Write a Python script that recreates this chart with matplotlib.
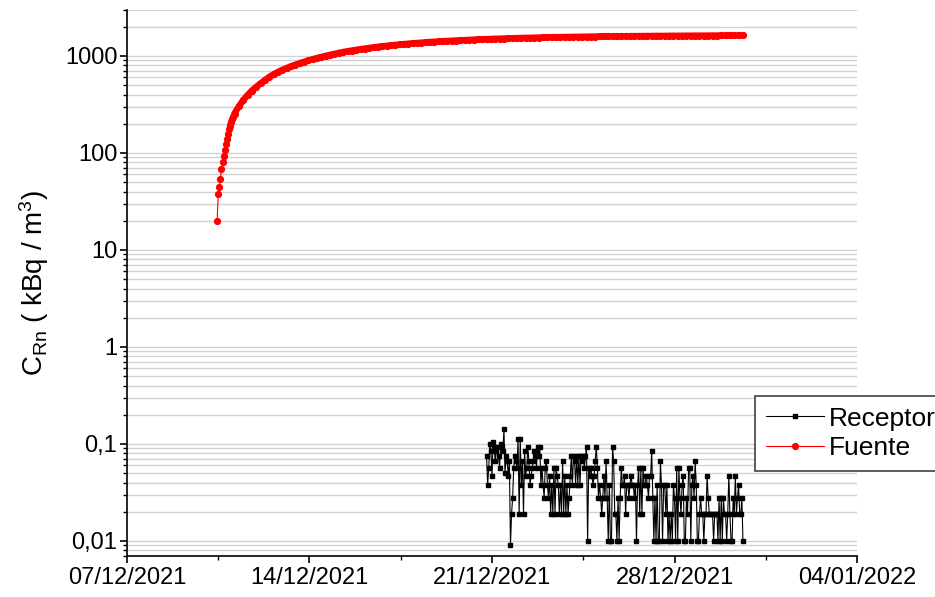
import numpy as np
import pandas as pd
import matplotlib
matplotlib.use('Agg')
import matplotlib.pyplot as plt
import matplotlib.dates as mdates
from matplotlib.ticker import LogLocator, FuncFormatter, NullFormatter

plt.rcParams['font.family'] = ['Liberation Sans', 'DejaVu Sans']
plt.rcParams['mathtext.fontset'] = 'custom'
plt.rcParams['mathtext.rm'] = 'Liberation Sans'
plt.rcParams['mathtext.it'] = 'Liberation Sans:italic'

# Fuente: hourly for the first 16 h, then one reading every 4 h
fuente_start = '2021-12-10 11:00'
fuente_vals = [20, 38, 45, 54, 68, 80, 93, 106, 123, 139, 157, 176, 191, 208, 222, 237,
               255, 303, 350, 395, 440, 480, 522, 564, 608, 648, 685, 718, 750, 782, 813,
               842, 870, 898, 926, 952, 978, 1003, 1028, 1052, 1075, 1097, 1118, 1138,
               1157, 1175, 1193, 1210, 1227, 1243, 1258, 1273, 1287, 1300, 1313, 1326,
               1338, 1350, 1361, 1372, 1382, 1392, 1401, 1410, 1419, 1427, 1435, 1443,
               1451, 1458, 1465, 1472, 1479, 1485, 1491, 1497, 1503, 1508, 1513, 1518,
               1523, 1528, 1532, 1536, 1540, 1544, 1548, 1552, 1555, 1558, 1561, 1564,
               1567, 1570, 1573, 1576, 1578, 1581, 1583, 1585, 1587, 1589, 1591, 1593,
               1595, 1597, 1598, 1600, 1602, 1603, 1605, 1606, 1607, 1609, 1610, 1611,
               1613, 1614, 1615, 1616, 1617, 1618, 1619, 1620, 1621, 1622, 1623, 1624,
               1625, 1626, 1627, 1627, 1628, 1628]
fuente_hours = list(range(16)) + list(range(16, 16 + 4 * (len(fuente_vals) - 16), 4))

# Receptor: hourly readings
receptor_start = '2021-12-20 19:00'
receptor_vals = [
    0.075, 0.038, 0.057, 0.1, 0.085, 0.047, 0.104, 0.094, 0.066, 0.085, 0.094, 0.075, 0.057,
    0.1, 0.094, 0.085, 0.141, 0.05, 0.075, 0.066, 0.047,
    0.066, 0.009, 0.019, 0.028, 0.057,
    0.075, 0.066, 0.057, 0.113, 0.019, 0.113, 0.038, 0.066, 0.019, 0.085,
    0.047, 0.057, 0.094, 0.066, 0.038, 0.047, 0.057, 0.066, 0.085, 0.075, 0.057, 0.094,
    0.075, 0.094, 0.038, 0.057, 0.038, 0.028,
    0.057, 0.066, 0.038, 0.028, 0.047, 0.019, 0.038, 0.019, 0.057, 0.019,
    0.057, 0.047, 0.038, 0.019, 0.038, 0.019, 0.066, 0.019, 0.047, 0.019, 0.038, 0.019,
    0.028, 0.047, 0.075, 0.038, 0.075, 0.066, 0.038, 0.075, 0.038, 0.075, 0.038, 0.075,
    0.066, 0.075, 0.057,
    0.075, 0.094, 0.01, 0.057, 0.047, 0.057, 0.047, 0.038, 0.047, 0.066,
    0.094, 0.057, 0.028, 0.038, 0.028, 0.019, 0.028, 0.047, 0.028, 0.066, 0.028, 0.01,
    0.038, 0.01, 0.01, 0.094, 0.066, 0.019, 0.019, 0.01, 0.028, 0.01, 0.028, 0.057, 0.038,
    0.038, 0.047, 0.019, 0.038, 0.038, 0.028, 0.038, 0.047, 0.038, 0.038, 0.028, 0.038,
    0.01, 0.038, 0.057,
    0.019, 0.057, 0.019, 0.057, 0.038, 0.038, 0.047, 0.038, 0.028, 0.047, 0.047, 0.085,
    0.028, 0.01, 0.028, 0.01, 0.038, 0.01, 0.01, 0.066, 0.038, 0.01, 0.038, 0.038, 0.019,
    0.038, 0.01,
    0.019, 0.01, 0.019, 0.01, 0.038, 0.028, 0.01, 0.057, 0.01, 0.057, 0.028, 0.019, 0.038,
    0.047, 0.01, 0.01, 0.028, 0.019, 0.057, 0.057, 0.01, 0.038, 0.047, 0.028, 0.066, 0.038,
    0.01, 0.01,
    0.019, 0.028, 0.019, 0.019, 0.01, 0.019, 0.019, 0.047, 0.028, 0.019, 0.019, 0.019,
    0.019, 0.01, 0.019,
    0.019, 0.019, 0.01, 0.028, 0.01, 0.028, 0.01, 0.028, 0.019, 0.019, 0.01, 0.019, 0.047,
    0.019, 0.01,
    0.01, 0.028, 0.019, 0.047, 0.019, 0.028, 0.038, 0.019, 0.019, 0.028, 0.01]

fuente_t = pd.Timestamp(fuente_start) + pd.to_timedelta(fuente_hours, unit='h')
receptor_t = pd.date_range(receptor_start, periods=len(receptor_vals), freq='h')

fig = plt.figure(figsize=(9.35, 5.97), dpi=100)
ax = fig.add_axes([0.1358, 0.0687, 0.7808, 0.9151])

ax.plot(receptor_t, receptor_vals, color='black', lw=0.8, marker='s', ms=2.8,
        label='Receptor')
# dense hourly markers merge into a solid band once the curve flattens
ax.plot(fuente_t[12:], fuente_vals[12:], color='red', lw=4.6,
        solid_capstyle='round', solid_joinstyle='round')
ax.plot(fuente_t, fuente_vals, color='red', lw=0.8, marker='o', ms=4.2,
        label='Fuente')

ax.set_yscale('log')
ax.set_ylim(0.007, 3000)
ax.set_xlim(pd.Timestamp('2021-12-07'), pd.Timestamp('2022-01-04'))

ax.set_xticks(pd.date_range('2021-12-07', '2022-01-04', freq='7D'))
ax.xaxis.set_major_formatter(mdates.DateFormatter('%d/%m/%Y'))
ax.set_xticks(pd.date_range('2021-12-10 12:00', '2022-01-01', freq='7D'), minor=True)

ax.yaxis.set_major_locator(LogLocator(base=10, numticks=20))
ax.yaxis.set_minor_locator(LogLocator(base=10, subs=np.arange(2, 10), numticks=20))
ax.yaxis.set_major_formatter(FuncFormatter(lambda v, p: f'{v:g}'.replace('.', ',')))
ax.yaxis.set_minor_formatter(NullFormatter())

ax.grid(True, which='both', axis='y', color='#d2d2d2', lw=1.0)
ax.set_axisbelow(True)

for s in ['top', 'right']:
    ax.spines[s].set_visible(False)
for s in ['left', 'bottom']:
    ax.spines[s].set_linewidth(1.2)

ax.tick_params(which='major', direction='out', length=5, width=1.2, labelsize=17, pad=2)
ax.tick_params(which='minor', direction='out', length=3, width=1.0)
ax.tick_params(axis='x', which='major', pad=3)

ax.set_ylabel(r'$\mathrm{C}_{\mathrm{Rn}}$ ( kBq / m$^{3}$)', fontsize=20, labelpad=10)

leg = ax.legend(loc='upper left', bbox_to_anchor=(755 / 935, 1 - 396 / 597),
                bbox_transform=fig.transFigure, borderaxespad=0, borderpad=0.4,
                handlelength=2.2, handletextpad=0.2, labelspacing=0.22,
                fontsize=19, fancybox=False, framealpha=1, edgecolor='#404040')
leg.get_frame().set_linewidth(1.2)

fig.savefig('out.png', dpi=100)
